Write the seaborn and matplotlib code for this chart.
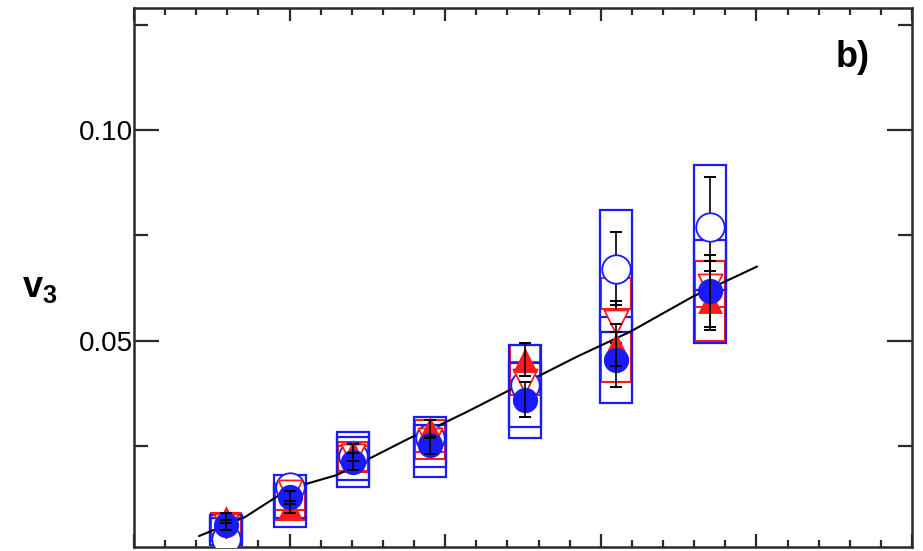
import numpy as np
import pandas as pd
import matplotlib
matplotlib.use("Agg")
import matplotlib.pyplot as plt
from matplotlib.patches import Rectangle
from matplotlib.ticker import MultipleLocator, NullFormatter, FixedLocator
import seaborn as sns

# ---- data -------------------------------------------------------------
x_bins = [5.9, 10.0, 14.1, 19.0, 25.1, 31.0, 37.0]

# blue filled circles
bf_val = [0.0062, 0.0128, 0.0212, 0.0252, 0.0360, 0.0455, 0.0618]
bf_stat = [0.0012, 0.0015, 0.0020, 0.0022, 0.0042, 0.0065, 0.0085]
bf_lo = [0.0025, 0.0057, 0.0152, 0.0176, 0.0269, 0.0352, 0.0495]
bf_hi = [0.0085, 0.0160, 0.0270, 0.0300, 0.0448, 0.0555, 0.0740]

# blue open circles
bo_val = [0.0030, 0.0152, 0.0225, 0.0268, 0.0395, 0.0671, 0.0769]
bo_stat = [0.0015, 0.0020, 0.0025, 0.0030, 0.0045, 0.0086, 0.0120]
bo_lo = [0.0015, 0.0080, 0.0170, 0.0200, 0.0295, 0.0521, 0.0620]
bo_hi = [0.0080, 0.0181, 0.0283, 0.0319, 0.0490, 0.0810, 0.0917]

# red filled triangles
rf_val = [0.0078, 0.0105, 0.0235, 0.0290, 0.0455, 0.0490, 0.0595]
rf_stat = [0.0012, 0.0015, 0.0020, 0.0022, 0.0040, 0.0050, 0.0070]
rf_lo = [0.0031, 0.0075, 0.0188, 0.0236, 0.0407, 0.0402, 0.0500]
rf_hi = [0.0090, 0.0140, 0.0260, 0.0312, 0.0490, 0.0520, 0.0688]

# red open triangles
ro_val = [0.0060, 0.0140, 0.0225, 0.0265, 0.0405, 0.0545, 0.0630]
ro_stat = [0.0012, 0.0015, 0.0020, 0.0022, 0.0035, 0.0050, 0.0060]
ro_lo = [0.0040, 0.0098, 0.0190, 0.0220, 0.0370, 0.0574, 0.0580]
ro_hi = [0.0080, 0.0160, 0.0250, 0.0300, 0.0450, 0.0648, 0.0688]

# model curve
model_x = [4.18, 7.13, 9.96, 13.05, 14.97, 17.74, 19.67, 21.4, 24.16,
           25.9, 28.47, 31.88, 35.93, 38.95, 40.04]
model_v3 = [0.0036, 0.0081, 0.0148, 0.0181, 0.0217, 0.0269, 0.0300, 0.0331,
            0.0383, 0.0414, 0.0462, 0.0521, 0.0605, 0.0657, 0.0676]

y_major = [0.05, 0.10]
y_major_labels = ["0.05", "0.10"]
y_minor = [0.025, 0.075, 0.125]

BLUE = "#1a1aff"
RED = "#ff1a1a"

# ---- figure -----------------------------------------------------------
sns.set_theme(style="ticks")
plt.rcParams["font.family"] = ["Liberation Sans", "DejaVu Sans"]

fig = plt.figure(figsize=(9.23, 5.51), dpi=100)
ax = fig.add_axes([0.1452, 0.0073, 0.8429, 0.9782])

half_w = 1.03


def boxes(lo, hi, color, hw, lw):
    for xc, a, b in zip(x_bins, lo, hi):
        ax.add_patch(Rectangle((xc - hw, a), 2 * hw, b - a, fill=False,
                               edgecolor=color, linewidth=lw, zorder=2))


boxes(ro_lo, ro_hi, RED, half_w * 0.94, 1.5)
boxes(rf_lo, rf_hi, RED, half_w * 0.94, 1.5)
boxes(bo_lo, bo_hi, BLUE, half_w, 1.6)
boxes(bf_lo, bf_hi, BLUE, half_w, 1.6)

# model line
model = pd.DataFrame({"x": model_x, "v3": model_v3})
sns.lineplot(data=model, x="x", y="v3", color="black", linewidth=1.5,
             ax=ax, zorder=3, sort=False)

err_kw = dict(fmt="none", ecolor="black", elinewidth=1.2, capsize=4,
              capthick=1.4)

# open markers (white filled)
ax.errorbar(x_bins, bo_val, yerr=bo_stat, zorder=3.5, **err_kw)
ax.errorbar(x_bins, ro_val, yerr=ro_stat, zorder=3.5, **err_kw)
sns.scatterplot(x=x_bins, y=bo_val, marker="o", s=420, facecolor="white",
                edgecolor=BLUE, linewidth=1.3, ax=ax, zorder=4)
sns.scatterplot(x=x_bins, y=ro_val, marker="v", s=300, facecolor="white",
                edgecolor=RED, linewidth=1.3, ax=ax, zorder=4.2)

# filled markers
sns.scatterplot(x=x_bins, y=rf_val, marker="^", s=320, color=RED,
                edgecolor=RED, linewidth=0, ax=ax, zorder=5)
sns.scatterplot(x=x_bins, y=bf_val, marker="o", s=330, color=BLUE,
                edgecolor=BLUE, linewidth=0, ax=ax, zorder=5.2)
ax.errorbar(x_bins, rf_val, yerr=rf_stat, zorder=6, **err_kw)
ax.errorbar(x_bins, bf_val, yerr=bf_stat, zorder=6, **err_kw)

# ---- axes -------------------------------------------------------------
ax.set_xlim(0, 50)
ax.set_ylim(0.001, 0.129)
ax.xaxis.set_major_locator(MultipleLocator(10))
ax.xaxis.set_minor_locator(MultipleLocator(2))
ax.xaxis.set_major_formatter(NullFormatter())
ax.yaxis.set_major_locator(FixedLocator(y_major))
ax.yaxis.set_minor_locator(FixedLocator(y_minor))
ax.set_yticklabels(y_major_labels)
ax.set_xlabel("")
ax.set_ylabel("")

for s in ax.spines.values():
    s.set_linewidth(1.8)
    s.set_color("#2a2a2a")
    s.set_visible(True)

ax.tick_params(axis="both", which="both", direction="in", top=True,
               right=True, color="#2a2a2a", width=1.6, labelcolor="black")
ax.tick_params(axis="y", which="major", length=18, labelsize=20, pad=1)
ax.tick_params(axis="y", which="minor", length=10)
ax.tick_params(axis="x", which="major", length=9.5)
ax.tick_params(axis="x", which="minor", length=5)

fig.text(0.024, 0.478, r"v$_\mathregular{3}$", fontsize=26, fontweight="bold",
         ha="left", va="center", color="black")
ax.text(0.924, 0.908, "b)", transform=ax.transAxes, fontsize=26,
        fontweight="bold", ha="center", va="center", color="black")

fig.savefig("out.png", dpi=100)
